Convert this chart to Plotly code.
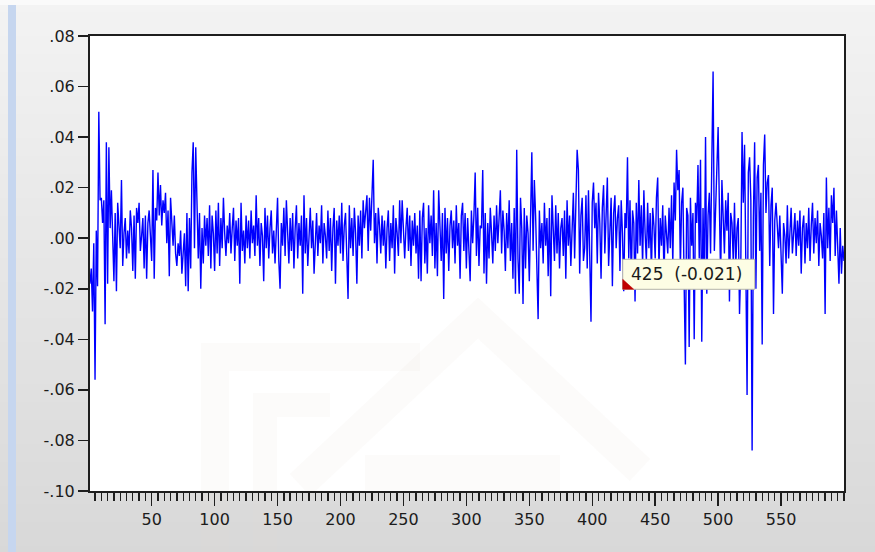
import plotly.graph_objects as go

# ---------------- data ----------------
values = [
    -.018, -.012, -.029, -.002, -.056, .003, -.019, .050, .015, .016, .006, .015, -.034, .038, -.018, .036, .004, .019, .001, -.017,
    .010, -.021, .014, .007, -.004, .023, -.011, .002, .008, -.008, .003, -.006, .011, .004, -.013, .009, -.016, .012, .006, .014,
    -.005, .001, .008, -.012, .009, -.016, .006, .011, .003, -.009, .027, -.016, .012, .007, .026, .009, .021, .005, .015, .010,
    .018, -.002, .011, -.015, .016, .004, -.003, .009, -.006, -.011, -.002, -.007, .003, -.014, -.004, .002, -.019, .010, -.021, .008,
    -.012, .026, .038, -.004, .036, .013, -.008, .010, -.020, .004, -.010, .009, -.003, .008, -.007, .013, -.012, .009, .002, -.013,
    .011, -.006, .014, -.011, .008, -.004, .016, .002, -.007, .005, -.002, .010, -.006, .004, .012, -.009, .007, -.003, .008, -.018,
    .014, -.005, .003, -.010, .009, -.004, .007, -.008, .011, -.002, .005, -.007, .017, -.003, .008, -.011, .006, .001, -.017, .012,
    -.004, .009, -.008, .004, .011, -.006, .003, -.010, .007, .016, -.009, -.020, .006, -.003, .012, -.007, .015, .002, -.010, .008,
    -.005, .010, -.012, .004, .013, -.008, .006, -.003, .009, -.022, .017, -.006, .008, -.011, .005, .012, -.004, .007, -.014, .003,
    .010, -.007, .005, -.002, .013, -.010, .006, .001, -.008, .011, -.005, .008, -.013, .004, .012, -.018, .007, -.003, .009, -.006,
    .014, -.009, .005, .010, -.011, -.024, .013, -.004, .008, -.007, .012, .002, -.018, .009, -.003, .011, -.008, .015, .004, .010,
    .017, -.005, .016, .003, .017, .031, -.002, .010, -.010, .012, .005, -.006, .009, -.003, .007, -.012, .004, .011, -.009, .006,
    -.004, .013, -.014, .008, .002, -.007, .015, -.002, .015, .006, -.008, .004, .012, -.005, .009, -.011, .007, -.003, .010, -.006,
    .005, -.016, .011, -.017, .008, .014, -.010, .004, -.014, .013, -.002, .009, -.007, .019, -.012, .006, -.015, .019, .003, -.009,
    .010, -.024, .012, -.006, .008, -.013, .005, .011, -.004, .007, -.010, .013, -.003, .006, -.016, .009, .014, -.005, .010, -.012,
    .008, -.004, -.017, .011, -.002, .009, .026, -.007, .012, -.011, .005, .004, .027, -.014, .010, -.018, .006, -.008, .012, .002,
    -.010, .009, -.005, .013, -.002, .008, .019, -.006, .011, .003, -.013, .010, -.004, .015, -.009, .006, -.016, .012, -.022, .035,
    -.008, -.022, .016, .004, -.026, .012, -.012, .009, .002, -.017, .018, .034, -.005, .023, .009, -.014, -.032, .011, -.004, .006,
    -.010, .014, -.003, .008, -.015, .012, -.023, .017, .002, -.009, .013, -.006, .010, -.012, .004, .008, -.007, .011, -.016, .015,
    -.003, .009, -.011, .006, .018, -.008, .013, .035, .027, -.014, .009, .016, -.009, -.004, .017, -.012, .019, -.015, -.033, .014,
    .022, .004, .014, -.010, .018, .006, -.016, .012, .021, -.006, .009, .024, -.011, .003, .016, -.019, .010, .017, -.004, .008,
    .013, -.013, .015, .002, -.021, .010, .004, .032, -.008, .015, -.018, .011, .006, -.025, .014, -.006, .023, -.003, .013, -.011,
    .019, .002, -.009, .014, -.004, .010, -.014, .012, .005, -.008, .016, .024, -.012, .008, -.003, .013, -.016, .009, .002, -.006,
    .012, -.004, .017, -.010, .022, .007, .035, .019, .027, -.012, .014, .020, -.018, -.050, .012, .009, -.043, .016, -.003, .010,
    -.040, .014, .006, .029, -.008, .031, -.041, .012, -.020, .040, -.022, .009, .018, -.006, .031, .066, -.005, .012, .021, .044,
    .013, -.016, .023, .005, -.006, .015, .003, .018, -.025, .010, .006, -.009, .014, -.012, .004, .008, -.030, -.011, .042, .014,
    .037, -.010, -.062, .026, .032, .015, -.084, .008, .038, -.020, .024, .029, -.005, .018, -.042, .029, .041, .010, .022, .025,
    -.011, .013, .020, -.030, .007, .014, .002, -.004, .009, -.012, -.022, .006, .001, -.010, .013, -.008, .005, .012, -.006, .003,
    .010, -.007, .007, -.003, .011, -.014, .004, .009, -.010, .006, -.004, .012, -.009, .005, .014, -.006, .008, -.002, .011, -.011,
    .006, .001, -.008, .010, -.030, .024, -.004, .012, -.009, .017, .006, .020, -.007, .011, -.006, -.018, .004, -.014, -.003, -.009,
]
obs = list(range(1, len(values) + 1))

y_tick_values = [0.08, 0.06, 0.04, 0.02, 0.00, -0.02, -0.04, -0.06, -0.08, -0.10]
y_tick_labels = [".08", ".06", ".04", ".02", ".00", "-.02", "-.04", "-.06", "-.08", "-.10"]
x_tick_values = [50, 100, 150, 200, 250, 300, 350, 400, 450, 500, 550]
x_tick_labels = ["50", "100", "150", "200", "250", "300", "350", "400", "450", "500", "550"]

tip_obs = 425
tip_value = -0.021
tip_text = "425\u00a0\u00a0(-0.021)"

# ---------------- layout geometry (pixels) ----------------
FW, FH = 875, 552
L, R, T, B = 90, 844, 36, 491
PW, PH = R - L, B - T


def px(X):
    return (X - L) / PW


def py(Y):
    return (B - Y) / PH


def mix(c1, c2, f):
    return "#%02x%02x%02x" % tuple(int(round(a + (b - a) * f)) for a, b in zip(c1, c2))


shapes = []
# gradient background bands
top_c, bot_c = (243, 243, 243), (216, 216, 216)
step = 6
for Y in range(0, FH, step):
    f = Y / FH
    shapes.append(dict(type="rect", xref="paper", yref="paper", layer="below",
                       x0=px(0), x1=px(FW), y0=py(Y + step + 1), y1=py(Y),
                       fillcolor=mix(top_c, bot_c, f), line=dict(width=0)))
# light top edge
shapes.append(dict(type="rect", xref="paper", yref="paper", layer="below",
                   x0=px(0), x1=px(FW), y0=py(5), y1=py(0),
                   fillcolor="#fafafa", line=dict(width=0)))
# blue strip on the left
shapes.append(dict(type="rect", xref="paper", yref="paper", layer="below",
                   x0=px(8), x1=px(16), y0=py(FH), y1=py(5),
                   fillcolor="#c6d6ef", line=dict(width=0)))
# white plot area
shapes.append(dict(type="rect", xref="paper", yref="paper", layer="below",
                   x0=0, x1=1, y0=0, y1=1, fillcolor="#ffffff", line=dict(width=0)))
# faint watermark
wm = "rgba(226,220,205,0.11)"
shapes.append(dict(type="path", xref="paper", yref="paper", layer="below",
                   path="M %f %f L %f %f L %f %f" % (
                       px(215), py(560), px(215), py(357), px(420), py(357)),
                   line=dict(color=wm, width=28)))
shapes.append(dict(type="path", xref="paper", yref="paper", layer="below",
                   path="M %f %f L %f %f L %f %f" % (
                       px(300), py(485), px(478), py(318), px(640), py(470)),
                   line=dict(color=wm, width=30)))
shapes.append(dict(type="path", xref="paper", yref="paper", layer="below",
                   path="M %f %f L %f %f L %f %f" % (
                       px(265), py(560), px(265), py(405), px(330), py(405)),
                   line=dict(color=wm, width=24)))
shapes.append(dict(type="rect", xref="paper", yref="paper", layer="below",
                   x0=px(365), x1=px(560), y0=py(490), y1=py(455),
                   fillcolor=wm, line=dict(width=0)))

# tooltip box and red marker
shapes.append(dict(type="rect", xref="x", yref="y", layer="above",
                   xsizemode="pixel", ysizemode="pixel", xanchor=tip_obs, yanchor=tip_value,
                   x0=-1, x1=131, y0=2, y1=32,
                   fillcolor="#fdfde4", line=dict(color="#b4b4a8", width=1)))
shapes.append(dict(type="path", xref="x", yref="y", layer="above",
                   xsizemode="pixel", ysizemode="pixel", xanchor=tip_obs, yanchor=tip_value,
                   path="M -1 2 L -1 12 L 10 2 Z",
                   fillcolor="#c00000", line=dict(color="#c00000", width=0.5)))

fig = go.Figure()
fig.add_trace(go.Scatter(x=obs, y=values, mode="lines",
                         line=dict(color="#0000ff", width=1.4),
                         hoverinfo="skip", showlegend=False))

axis_col = "#1e1e1e"
tick_font = dict(family="DejaVu Sans", size=16, color="#1c1c1c")

fig.update_layout(
    width=FW, height=FH,
    margin=dict(l=L, r=FW - R, t=T, b=FH - B),
    paper_bgcolor="#e6e6e6",
    plot_bgcolor="#ffffff",
    shapes=shapes,
    showlegend=False,
    hovermode=False,
    xaxis=dict(
        range=[1, len(values)], showgrid=False, zeroline=False,
        showline=True, linecolor=axis_col, linewidth=2, mirror=True,
        ticks="outside", ticklen=13, tickwidth=1.5, tickcolor=axis_col,
        tickvals=x_tick_values, ticktext=x_tick_labels, tickfont=tick_font,
        minor=dict(ticks="outside", dtick=5, tick0=0, ticklen=8, tickwidth=1.3, tickcolor=axis_col),
    ),
    yaxis=dict(
        range=[-0.10, 0.08], showgrid=False, zeroline=False,
        showline=True, linecolor=axis_col, linewidth=2, mirror=True,
        ticks="outside", ticklen=10, tickwidth=1.5, tickcolor=axis_col,
        tickvals=y_tick_values, ticktext=y_tick_labels, tickfont=tick_font,
    ),
    annotations=[dict(
        x=tip_obs, y=tip_value, xref="x", yref="y", text=tip_text,
        showarrow=False, xanchor="left", yanchor="middle", xshift=5, yshift=17,
        font=dict(family="DejaVu Sans", size=17, color="#1a1a1a"),
    )],
)

fig.write_html(
    "out.html",
    config={"displayModeBar": False, "staticPlot": True},
    post_script="document.body.style.margin='0';document.body.style.overflow='hidden';",
)
